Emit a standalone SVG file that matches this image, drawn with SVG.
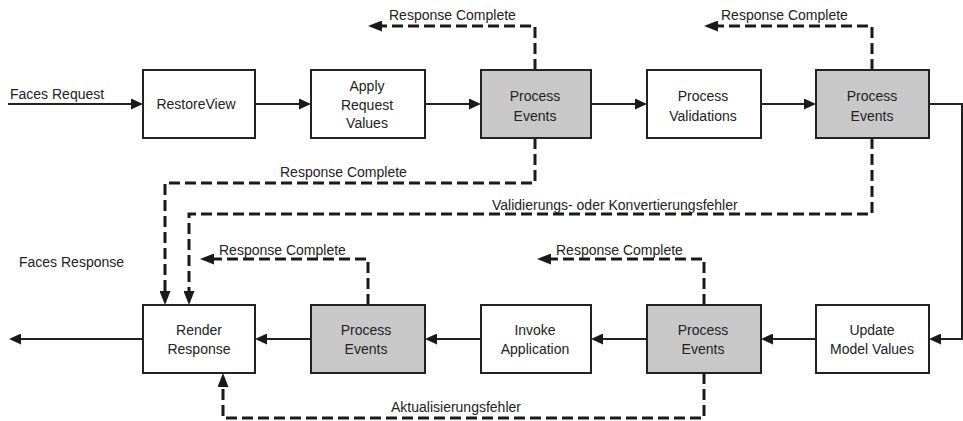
<svg xmlns="http://www.w3.org/2000/svg" width="963" height="421" viewBox="0 0 963 421">
<style>
.box{fill:#fff;stroke:#222;stroke-width:2}
.gray{fill:#c8c8c8;stroke:#222;stroke-width:2}
.t{font-family:"Liberation Sans",Arial,sans-serif;font-size:14px;fill:#222}
.c{text-anchor:middle}
.solid{fill:none;stroke:#222;stroke-width:2;marker-end:url(#ah)}
.dash{fill:none;stroke:#1a1a1a;stroke-width:3;stroke-dasharray:11 5;marker-end:url(#ahd)}
</style>
<defs>
<marker id="ah" viewBox="0 -5.5 12 11" refX="0" refY="0" markerWidth="12" markerHeight="11" markerUnits="userSpaceOnUse" orient="auto">
<path d="M0,-5.5 L12,0 L0,5.5 z" fill="#1a1a1a"/>
</marker>
<marker id="ahd" viewBox="0 -5.5 14 11" refX="0" refY="0" markerWidth="14" markerHeight="11" markerUnits="userSpaceOnUse" orient="auto">
<path d="M0,-5.5 L14,0 L0,5.5 z" fill="#1a1a1a"/>
</marker>
</defs>
<rect width="963" height="421" fill="#fff"/>

<g id="connectors">
<path class="solid" d="M8,104 H131"/>
<path class="solid" d="M255,104 H299"/>
<path class="solid" d="M425,104 H469"/>
<path class="solid" d="M591,104 H635"/>
<path class="solid" d="M761,104 H804"/>
<path class="solid" d="M929,104 H962 V339 H941"/>
<path class="solid" d="M816,339 H773"/>
<path class="solid" d="M647,339 H603"/>
<path class="solid" d="M481,339 H437"/>
<path class="solid" d="M311,339 H267"/>
<path class="solid" d="M143,339 H21"/>

<path class="dash" d="M535,70 V26 H382"/>
<path class="dash" d="M872,70 V26 H718"/>
<path class="dash" d="M535,138 V183 H165 V291"/>
<path class="dash" d="M872,138 V214 H189 V291"/>
<path class="dash" d="M368,305 V259 H214"/>
<path class="dash" d="M704,305 V259 H551"/>
<path class="dash" d="M704,373 V418 H223 V387"/>

<text class="t" x="10" y="99">Faces Request</text>
<text class="t" x="19" y="267">Faces Response</text>
<text class="t" x="389" y="20">Response Complete</text>
<text class="t" x="721" y="20">Response Complete</text>
<text class="t" x="280" y="177">Response Complete</text>
<text class="t" x="492" y="210">Validierungs- oder Konvertierungsfehler</text>
<text class="t" x="219" y="255">Response Complete</text>
<text class="t" x="556" y="255">Response Complete</text>
<text class="t" x="391" y="412">Aktualisierungsfehler</text>
</g>

<g id="restore-view">
<rect class="box" x="143" y="70" width="112" height="68"/>
<text class="t c" x="196" y="109">RestoreView</text>
</g>
<g id="apply-request-values">
<rect class="box" x="311" y="70" width="114" height="68"/>
<text class="t c" x="367" y="91">Apply</text>
<text class="t c" x="367" y="109.5">Request</text>
<text class="t c" x="367" y="128">Values</text>
</g>
<g id="process-events-1">
<rect class="gray" x="481" y="70" width="110" height="68"/>
<text class="t c" x="535" y="101">Process</text>
<text class="t c" x="535" y="121">Events</text>
</g>
<g id="process-validations">
<rect class="box" x="647" y="70" width="114" height="68"/>
<text class="t c" x="703" y="101">Process</text>
<text class="t c" x="703" y="121">Validations</text>
</g>
<g id="process-events-2">
<rect class="gray" x="816" y="70" width="113" height="68"/>
<text class="t c" x="872" y="101">Process</text>
<text class="t c" x="872" y="121">Events</text>
</g>

<g id="render-response">
<rect class="box" x="143" y="305" width="112" height="68"/>
<text class="t c" x="199" y="335">Render</text>
<text class="t c" x="199" y="354">Response</text>
</g>
<g id="process-events-3">
<rect class="gray" x="311" y="305" width="114" height="68"/>
<text class="t c" x="366" y="335">Process</text>
<text class="t c" x="366" y="354">Events</text>
</g>
<g id="invoke-application">
<rect class="box" x="481" y="305" width="110" height="68"/>
<text class="t c" x="535" y="335">Invoke</text>
<text class="t c" x="535" y="354">Application</text>
</g>
<g id="process-events-4">
<rect class="gray" x="647" y="305" width="114" height="68"/>
<text class="t c" x="703" y="335">Process</text>
<text class="t c" x="703" y="354">Events</text>
</g>
<g id="update-model-values">
<rect class="box" x="816" y="305" width="113" height="68"/>
<text class="t c" x="872" y="335">Update</text>
<text class="t c" x="872" y="354">Model Values</text>
</g>
</svg>
